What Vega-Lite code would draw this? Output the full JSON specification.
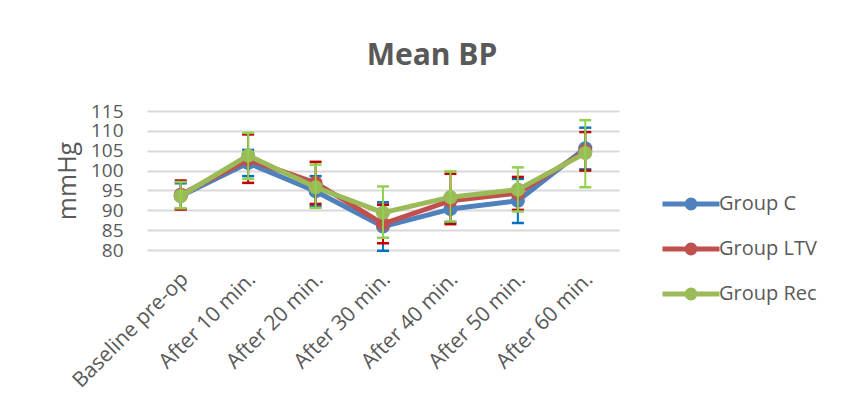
{
  "$schema": "https://vega.github.io/schema/vega-lite/v6.json",
  "autosize": "none",
  "width": 472,
  "height": 139,
  "padding": {"left": 147, "top": 111, "right": 223, "bottom": 155},
  "background": "white",
  "title": {
    "text": "Mean BP",
    "font": "Open Sans",
    "fontSize": 30,
    "fontWeight": "bold",
    "color": "#595959",
    "anchor": "middle",
    "dx": 49,
    "baseline": "alphabetic",
    "offset": 7
  },
  "data": {
    "values": [
      {"time": "Baseline pre-op", "group": "Group C", "mean": 93.6, "lo": 90.4, "hi": 96.8},
      {"time": "After 10 min.", "group": "Group C", "mean": 101.9, "lo": 98.6, "hi": 105.2},
      {"time": "After 20 min.", "group": "Group C", "mean": 94.8, "lo": 91.0, "hi": 98.6},
      {"time": "After 30 min.", "group": "Group C", "mean": 85.9, "lo": 79.8, "hi": 92.0},
      {"time": "After 40 min.", "group": "Group C", "mean": 90.3, "lo": 87.0, "hi": 93.6},
      {"time": "After 50 min.", "group": "Group C", "mean": 92.4, "lo": 86.8, "hi": 97.9},
      {"time": "After 60 min.", "group": "Group C", "mean": 105.6, "lo": 100.3, "hi": 110.8},
      {"time": "Baseline pre-op", "group": "Group LTV", "mean": 93.9, "lo": 90.2, "hi": 97.5},
      {"time": "After 10 min.", "group": "Group LTV", "mean": 102.8, "lo": 96.9, "hi": 109.1},
      {"time": "After 20 min.", "group": "Group LTV", "mean": 96.9, "lo": 91.6, "hi": 102.2},
      {"time": "After 30 min.", "group": "Group LTV", "mean": 86.6, "lo": 81.7, "hi": 91.4},
      {"time": "After 40 min.", "group": "Group LTV", "mean": 92.4, "lo": 86.5, "hi": 99.2},
      {"time": "After 50 min.", "group": "Group LTV", "mean": 94.3, "lo": 90.1, "hi": 98.4},
      {"time": "After 60 min.", "group": "Group LTV", "mean": 104.9, "lo": 100.0, "hi": 109.7},
      {"time": "Baseline pre-op", "group": "Group Rec", "mean": 93.6, "lo": 90.5, "hi": 97.1},
      {"time": "After 10 min.", "group": "Group Rec", "mean": 103.8, "lo": 97.9, "hi": 109.5},
      {"time": "After 20 min.", "group": "Group Rec", "mean": 95.8, "lo": 90.6, "hi": 101.5},
      {"time": "After 30 min.", "group": "Group Rec", "mean": 89.4, "lo": 83.1, "hi": 96.0},
      {"time": "After 40 min.", "group": "Group Rec", "mean": 93.3, "lo": 87.2, "hi": 99.8},
      {"time": "After 50 min.", "group": "Group Rec", "mean": 95.2, "lo": 89.7, "hi": 100.8},
      {"time": "After 60 min.", "group": "Group Rec", "mean": 104.4, "lo": 95.8, "hi": 112.7}
    ]
  },
  "encoding": {
    "x": {
      "field": "time",
      "type": "ordinal",
      "sort": ["Baseline pre-op", "After 10 min.", "After 20 min.", "After 30 min.", "After 40 min.", "After 50 min.", "After 60 min."],
      "scale": {"type": "point", "padding": 0.5},
      "axis": {
        "title": null,
        "labelAngle": -45,
        "labelFont": "Open Sans",
        "labelFontSize": 21,
        "labelColor": "#595959",
        "labelPadding": 18,
        "labelOffset": -4,
        "labelOverlap": false,
        "ticks": false,
        "domain": false,
        "grid": false
      }
    }
  },
  "layer": [
    {
      "transform": [{"filter": "datum.group === 'Group C'"}],
      "layer": [
        {"mark": {"type": "line", "strokeWidth": 5, "strokeCap": "round", "strokeJoin": "round"},
         "encoding": {"y": {"field": "mean", "type": "quantitative", "title": "mmHg", "scale": {"domain": [80, 115], "zero": false}, "axis": {"values": [80, 85, 90, 95, 100, 105, 110, 115], "labelOverlap": false}}, "color": {"field": "group", "type": "nominal"}}},
        {"mark": {"type": "point", "filled": true, "opacity": 1, "size": 200},
         "encoding": {"y": {"field": "mean", "type": "quantitative", "title": "mmHg", "scale": {"domain": [80, 115], "zero": false}, "axis": {"values": [80, 85, 90, 95, 100, 105, 110, 115], "labelOverlap": false}}, "color": {"field": "group", "type": "nominal"}}},
        {"mark": {"type": "rule", "color": "#0070C0", "strokeWidth": 2},
         "encoding": {"y": {"field": "lo", "type": "quantitative", "title": "mmHg", "scale": {"domain": [80, 115], "zero": false}, "axis": {"values": [80, 85, 90, 95, 100, 105, 110, 115], "labelOverlap": false}}, "y2": {"field": "hi"}}},
        {"mark": {"type": "tick", "color": "#0070C0", "size": 12, "thickness": 2.5, "opacity": 1},
         "encoding": {"y": {"field": "lo", "type": "quantitative", "title": "mmHg", "scale": {"domain": [80, 115], "zero": false}, "axis": {"values": [80, 85, 90, 95, 100, 105, 110, 115], "labelOverlap": false}}}},
        {"mark": {"type": "tick", "color": "#0070C0", "size": 12, "thickness": 2.5, "opacity": 1},
         "encoding": {"y": {"field": "hi", "type": "quantitative", "title": "mmHg", "scale": {"domain": [80, 115], "zero": false}, "axis": {"values": [80, 85, 90, 95, 100, 105, 110, 115], "labelOverlap": false}}}}
      ]
    },
    {
      "transform": [{"filter": "datum.group === 'Group LTV'"}],
      "layer": [
        {"mark": {"type": "line", "strokeWidth": 5, "strokeCap": "round", "strokeJoin": "round"},
         "encoding": {"y": {"field": "mean", "type": "quantitative", "title": "mmHg", "scale": {"domain": [80, 115], "zero": false}, "axis": {"values": [80, 85, 90, 95, 100, 105, 110, 115], "labelOverlap": false}}, "color": {"field": "group", "type": "nominal"}}},
        {"mark": {"type": "point", "filled": true, "opacity": 1, "size": 200},
         "encoding": {"y": {"field": "mean", "type": "quantitative", "title": "mmHg", "scale": {"domain": [80, 115], "zero": false}, "axis": {"values": [80, 85, 90, 95, 100, 105, 110, 115], "labelOverlap": false}}, "color": {"field": "group", "type": "nominal"}}},
        {"mark": {"type": "rule", "color": "#C00000", "strokeWidth": 2},
         "encoding": {"y": {"field": "lo", "type": "quantitative", "title": "mmHg", "scale": {"domain": [80, 115], "zero": false}, "axis": {"values": [80, 85, 90, 95, 100, 105, 110, 115], "labelOverlap": false}}, "y2": {"field": "hi"}}},
        {"mark": {"type": "tick", "color": "#C00000", "size": 12, "thickness": 2.5, "opacity": 1},
         "encoding": {"y": {"field": "lo", "type": "quantitative", "title": "mmHg", "scale": {"domain": [80, 115], "zero": false}, "axis": {"values": [80, 85, 90, 95, 100, 105, 110, 115], "labelOverlap": false}}}},
        {"mark": {"type": "tick", "color": "#C00000", "size": 12, "thickness": 2.5, "opacity": 1},
         "encoding": {"y": {"field": "hi", "type": "quantitative", "title": "mmHg", "scale": {"domain": [80, 115], "zero": false}, "axis": {"values": [80, 85, 90, 95, 100, 105, 110, 115], "labelOverlap": false}}}}
      ]
    },
    {
      "transform": [{"filter": "datum.group === 'Group Rec'"}],
      "layer": [
        {"mark": {"type": "line", "strokeWidth": 5, "strokeCap": "round", "strokeJoin": "round"},
         "encoding": {"y": {"field": "mean", "type": "quantitative", "title": "mmHg", "scale": {"domain": [80, 115], "zero": false}, "axis": {"values": [80, 85, 90, 95, 100, 105, 110, 115], "labelOverlap": false}}, "color": {"field": "group", "type": "nominal"}}},
        {"mark": {"type": "point", "filled": true, "opacity": 1, "size": 200},
         "encoding": {"y": {"field": "mean", "type": "quantitative", "title": "mmHg", "scale": {"domain": [80, 115], "zero": false}, "axis": {"values": [80, 85, 90, 95, 100, 105, 110, 115], "labelOverlap": false}}, "color": {"field": "group", "type": "nominal"}}},
        {"mark": {"type": "rule", "color": "#92D050", "strokeWidth": 2},
         "encoding": {"y": {"field": "lo", "type": "quantitative", "title": "mmHg", "scale": {"domain": [80, 115], "zero": false}, "axis": {"values": [80, 85, 90, 95, 100, 105, 110, 115], "labelOverlap": false}}, "y2": {"field": "hi"}}},
        {"mark": {"type": "tick", "color": "#92D050", "size": 12, "thickness": 2.5, "opacity": 1},
         "encoding": {"y": {"field": "lo", "type": "quantitative", "title": "mmHg", "scale": {"domain": [80, 115], "zero": false}, "axis": {"values": [80, 85, 90, 95, 100, 105, 110, 115], "labelOverlap": false}}}},
        {"mark": {"type": "tick", "color": "#92D050", "size": 12, "thickness": 2.5, "opacity": 1},
         "encoding": {"y": {"field": "hi", "type": "quantitative", "title": "mmHg", "scale": {"domain": [80, 115], "zero": false}, "axis": {"values": [80, 85, 90, 95, 100, 105, 110, 115], "labelOverlap": false}}}}
      ]
    }
  ],
  "resolve": {"scale": {"y": "shared", "color": "shared"}},
  "config": {
    "view": {"stroke": null},
    "range": {"category": ["#4F81BD", "#C0504D", "#9BBB59"]},
    "axisQuantitative": {
      "gridColor": "#D9D9D9",
      "gridWidth": 2,
      "domain": false,
      "ticks": false,
      "labelFont": "Open Sans",
      "labelFontSize": 19,
      "labelColor": "#595959",
      "labelPadding": 24,
      "titleFont": "Open Sans",
      "titleFontSize": 25,
      "titleFontWeight": "normal",
      "titleColor": "#595959",
      "titlePadding": 10
    },
    "legend": {
      "orient": "none",
      "legendX": 513,
      "legendY": 62,
      "title": null,
      "symbolType": "M-1,0H1M0.14,0A0.14,0.14,0,1,1,-0.14,0A0.14,0.14,0,1,1,0.14,0Z",
      "symbolSize": 3249,
      "symbolStrokeWidth": 5,
      "labelFont": "Open Sans",
      "labelFontSize": 20,
      "labelColor": "#595959",
      "labelOffset": -3,
      "rowPadding": -13,
      "padding": 0
    }
  }
}
